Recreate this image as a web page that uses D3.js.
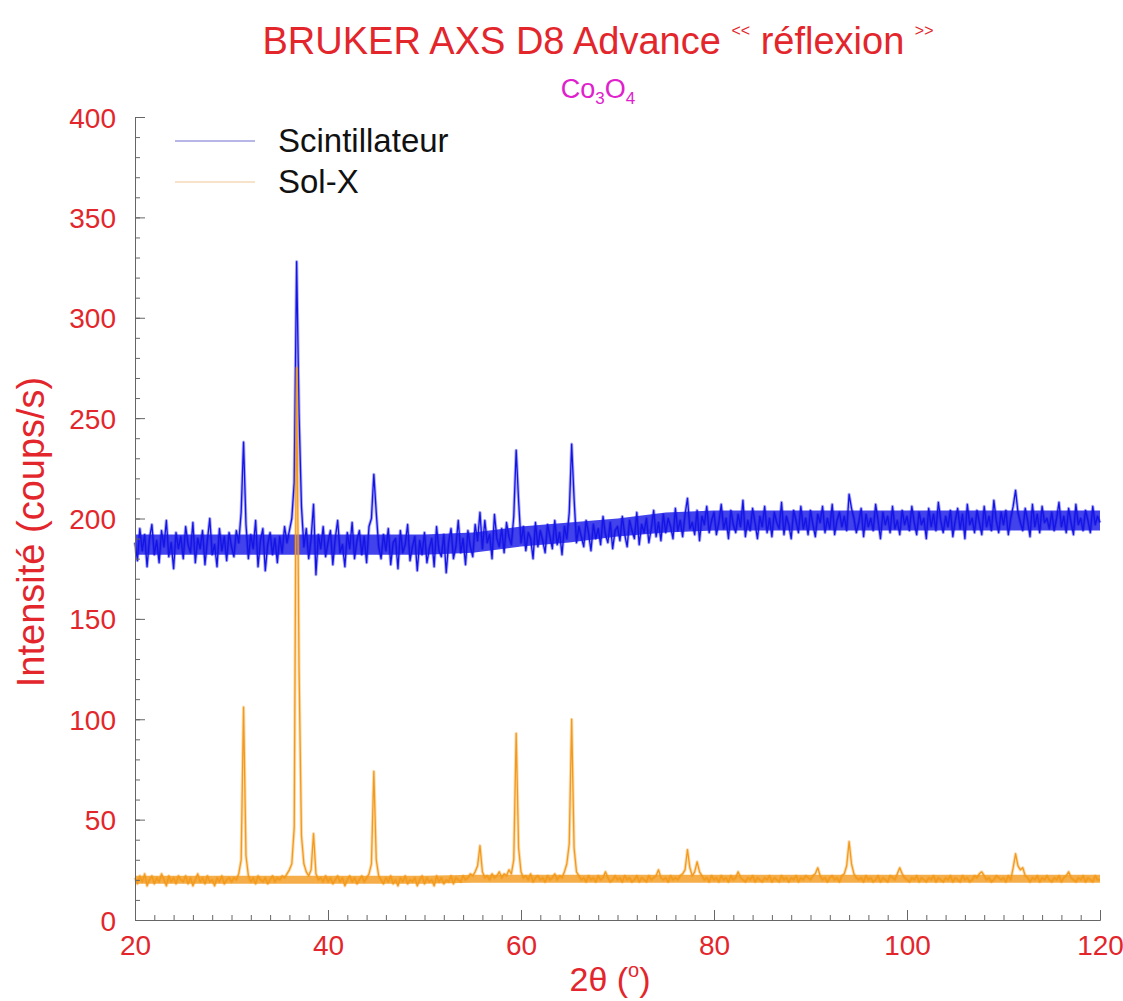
<!DOCTYPE html>
<html>
<head>
<meta charset="utf-8">
<script src="https://cdn.jsdelivr.net/npm/d3@7.9.0/dist/d3.min.js"></script>
<style>
  body { margin: 0; background: #fff; }
  svg { font-family: "Liberation Sans", Arial, Helvetica, sans-serif; }
</style>
</head>
<body>
<svg id="chart" width="1123" height="1001"></svg>
<script>
// 2θ grid: 20° to 120°, one reading every 0.25°
const angleStart = 20;
const angleStep = 0.25;

// Scintillateur counts (coups/s), 20 values per 5° row
const scintillateur = [
  188,179,195,184,192,176,190,197,182,189,178,194,186,199,181,188,175,193,185,191,
  180,196,187,183,198,178,190,185,194,177,189,200,182,187,176,195,184,191,179,193,
  186,181,194,188,203,238,197,180,192,185,199,176,189,195,174,187,193,182,190,178,
  191,183,196,188,194,200,218,328,252,206,186,195,180,190,207,172,192,185,196,181,
  188,194,177,190,199,183,187,176,193,185,198,180,189,194,182,191,178,196,200,222,
  203,186,180,192,184,195,177,188,190,175,194,183,187,197,179,186,191,174,189,182,
  193,178,185,190,176,196,184,181,192,173,188,195,180,186,199,183,190,177,194,186,
  181,197,189,203,185,199,188,192,180,202,190,186,195,183,198,191,187,201,234,209,
  188,196,184,193,190,180,198,186,194,189,183,197,191,185,199,187,193,182,196,190,
  203,237,210,188,196,191,186,199,193,184,197,190,195,187,201,192,188,198,185,194,
  196,189,201,192,186,199,194,190,203,187,197,193,200,188,195,204,191,198,189,202,
  193,200,196,190,205,194,199,191,202,210,195,198,192,204,189,201,197,206,193,199,
  203,192,198,207,195,200,190,204,197,193,202,196,209,191,199,194,205,198,190,201,
  196,206,193,200,191,203,198,195,208,192,201,197,190,204,199,193,206,195,200,192,
  204,197,191,202,198,206,193,200,195,207,192,199,203,196,201,194,212,205,200,193,
  198,205,191,202,196,200,194,207,199,190,203,197,201,193,206,195,199,192,204,197,
  201,194,206,198,192,203,197,200,190,205,196,202,194,208,199,193,201,196,204,191,
  199,205,195,202,190,207,197,200,193,204,198,192,206,196,201,194,209,199,193,203,
  197,204,192,200,206,214,203,198,194,205,199,191,207,196,202,193,206,198,200,195,
  203,194,200,208,196,201,193,205,198,192,207,197,200,194,204,199,193,206,197,201,
  198
];

// Sol-X counts (coups/s)
const solX = [
  21,18,22,19,23,17,20,22,18,21,19,23,20,17,22,19,21,18,22,20,
  19,22,18,21,17,20,23,19,21,18,22,19,20,17,21,19,22,18,20,21,
  19,21,20,23,30,106,32,22,19,21,18,22,20,19,21,18,20,22,19,21,
  20,22,21,23,25,28,46,275,125,42,28,24,22,25,43,23,20,21,19,22,
  19,21,18,20,22,19,21,17,20,22,19,21,18,20,22,19,21,23,28,74,
  30,22,20,18,21,19,22,18,20,17,21,19,22,18,20,19,21,17,20,22,
  18,21,19,20,17,22,19,21,18,20,19,22,18,21,20,19,22,20,21,23,
  22,24,27,37,24,21,22,20,23,21,22,24,21,23,22,25,23,30,93,36,
  24,21,22,20,23,19,21,22,20,21,19,22,20,21,23,20,22,21,24,28,
  38,100,36,24,22,20,21,19,22,20,21,19,22,20,21,24,21,19,20,22,
  20,21,19,22,20,21,19,20,22,19,21,20,19,22,20,21,22,25,21,20,
  21,19,22,20,21,20,22,23,25,35,26,22,24,29,24,22,20,21,19,22,
  20,21,19,22,20,21,19,22,20,21,24,21,20,19,21,20,22,19,21,20,
  19,21,20,22,19,21,20,19,22,20,21,19,21,20,22,19,21,20,22,21,
  20,22,23,26,22,20,21,19,21,22,20,21,19,22,23,27,39,28,23,21,
  20,21,19,22,20,21,19,20,22,19,21,20,19,22,21,20,23,26,23,21,
  20,19,21,20,22,19,21,20,19,21,20,22,19,21,20,19,21,20,22,19,
  21,20,19,22,20,21,19,20,22,21,23,24,22,20,21,19,20,22,21,20,
  21,19,22,20,26,33,27,25,26,22,21,19,21,20,22,19,21,20,22,20,
  19,21,20,22,19,21,22,24,21,20,19,21,20,22,19,21,20,19,22,20,
  20
];

// Dense core of each scan's noise, read every 5°
const bandAngles = [20,25,30,35,40,45,50,55,60,65,70,75,80,85,90,95,100,105,110,115,120];
const scintLow  = [182,182,182,182,182,182,182,183,186,188,191,193,194,194,194,194,194,194,194,194,194];
const scintHigh = [192,192,192,192,192,192,192,193,196,198,200,203,204,204,204,204,204,204,204,204,204];
const solXLow   = [18,18,18,18,18,18,18,18.5,18.5,18.5,18.5,18.5,18.5,18.5,18.5,18.5,18.5,18.5,18.5,18.5,18.5];
const solXHigh  = [22,22,22,22,22,22,22,22.5,22.5,22.5,22.5,22.5,22.5,22.5,22.5,22.5,22.5,22.5,22.5,22.5,22.5];

const seriesNames = ["Scintillateur", "Sol-X"];
const seriesColors = ["#1414e6", "#f39a1c"];
const legendColors = ["#7070d0", "#f2c896"];

const xTicks = [20, 40, 60, 80, 100, 120];
const yTicks = [0, 50, 100, 150, 200, 250, 300, 350, 400];

const red = "#e3262c";
const axisGrey = "#666";

const svg = d3.select("#chart");

const x = d3.scaleLinear().domain([20, 120]).range([135, 1100]);
const y = d3.scaleLinear().domain([0, 400]).range([920, 117]);

const toPoints = (values) => values.map((v, i) => [angleStart + i * angleStep, v]);

const line = d3.line()
  .x((d) => x(d[0]))
  .y((d) => y(d[1]));

const band = d3.area()
  .x((d) => x(d.a))
  .y0((d) => y(d.lo))
  .y1((d) => y(d.hi));

const bands = [[scintLow, scintHigh], [solXLow, solXHigh]];

// Curves: noise core, soft halo, then crisp trace
[scintillateur, solX].forEach((values, i) => {
  const pts = toPoints(values);
  const [lo, hi] = bands[i];
  svg.append("path")
    .datum(bandAngles.map((a, k) => ({ a, lo: lo[k], hi: hi[k] })))
    .attr("d", band)
    .attr("fill", seriesColors[i])
    .attr("fill-opacity", 0.8);
  svg.append("path")
    .datum(pts)
    .attr("d", line)
    .attr("fill", "none")
    .attr("stroke", seriesColors[i])
    .attr("stroke-opacity", 0.35)
    .attr("stroke-width", 3.2)
    .attr("stroke-linejoin", "round");
  svg.append("path")
    .datum(pts)
    .attr("d", line)
    .attr("fill", "none")
    .attr("stroke", seriesColors[i])
    .attr("stroke-width", 1.3)
    .attr("stroke-linejoin", "round");
});

// Axes: ticks pointing inward, minor ticks without labels
const xMinor = svg.append("g").attr("transform", "translate(0,920)")
  .call(d3.axisBottom(x).tickValues(d3.range(20, 121, 2)).tickSize(-5).tickSizeOuter(0).tickFormat(""));
const yMinor = svg.append("g").attr("transform", "translate(135,0)")
  .call(d3.axisLeft(y).tickValues(d3.range(0, 401, 10)).tickSize(-5).tickSizeOuter(0).tickFormat(""));

const xAxis = svg.append("g").attr("transform", "translate(0,920)")
  .call(d3.axisBottom(x).tickValues(xTicks).tickSize(-10).tickSizeOuter(0).tickPadding(14));
const yAxis = svg.append("g").attr("transform", "translate(135,0)")
  .call(d3.axisLeft(y).tickValues(yTicks).tickSize(-10).tickSizeOuter(0).tickPadding(19));

[xMinor, yMinor, xAxis, yAxis].forEach((g) => {
  g.selectAll("path, line").attr("stroke", axisGrey);
});

xAxis.selectAll("text")
  .attr("fill", red)
  .attr("font-size", 28)
  .attr("dy", "0.75em");
yAxis.selectAll("text")
  .attr("fill", red)
  .attr("font-size", 28)
  .attr("dy", "0.36em");

// Axis titles
const xTitle = svg.append("text")
  .attr("x", 610)
  .attr("y", 991)
  .attr("text-anchor", "middle")
  .attr("fill", red)
  .attr("font-size", 34);
xTitle.append("tspan").text("2θ (");
xTitle.append("tspan").attr("font-size", 20).attr("dy", -14).text("o");
xTitle.append("tspan").attr("dy", 14).text(")");

svg.append("text")
  .attr("transform", "translate(44,532) rotate(-90)")
  .attr("text-anchor", "middle")
  .attr("fill", red)
  .attr("font-size", 38)
  .text("Intensité (coups/s)");

// Titles
const title = svg.append("text")
  .attr("x", 598)
  .attr("y", 54)
  .attr("text-anchor", "middle")
  .attr("fill", red)
  .attr("font-size", 38);
title.append("tspan").text("BRUKER AXS D8 Advance ");
title.append("tspan").attr("font-size", 16).attr("dy", -18).text("<<");
title.append("tspan").attr("dy", 18).text(" réflexion ");
title.append("tspan").attr("font-size", 16).attr("dy", -18).text(">>");

const sub = svg.append("text")
  .attr("x", 598)
  .attr("y", 98)
  .attr("text-anchor", "middle")
  .attr("fill", "#e020cc")
  .attr("font-size", 27);
sub.append("tspan").text("Co");
sub.append("tspan").attr("font-size", 17).attr("dy", 6).text("3");
sub.append("tspan").attr("dy", -6).text("O");
sub.append("tspan").attr("font-size", 17).attr("dy", 6).text("4");

// Legend
const legend = svg.append("g");
seriesNames.forEach((name, i) => {
  const ly = 141 + i * 41;
  legend.append("line")
    .attr("x1", 175).attr("x2", 255)
    .attr("y1", ly).attr("y2", ly)
    .attr("stroke", legendColors[i])
    .attr("stroke-width", 1.2);
  legend.append("text")
    .attr("x", 278)
    .attr("y", ly + 11)
    .attr("fill", "#111")
    .attr("font-size", 33)
    .text(name);
});
</script>
</body>
</html>
